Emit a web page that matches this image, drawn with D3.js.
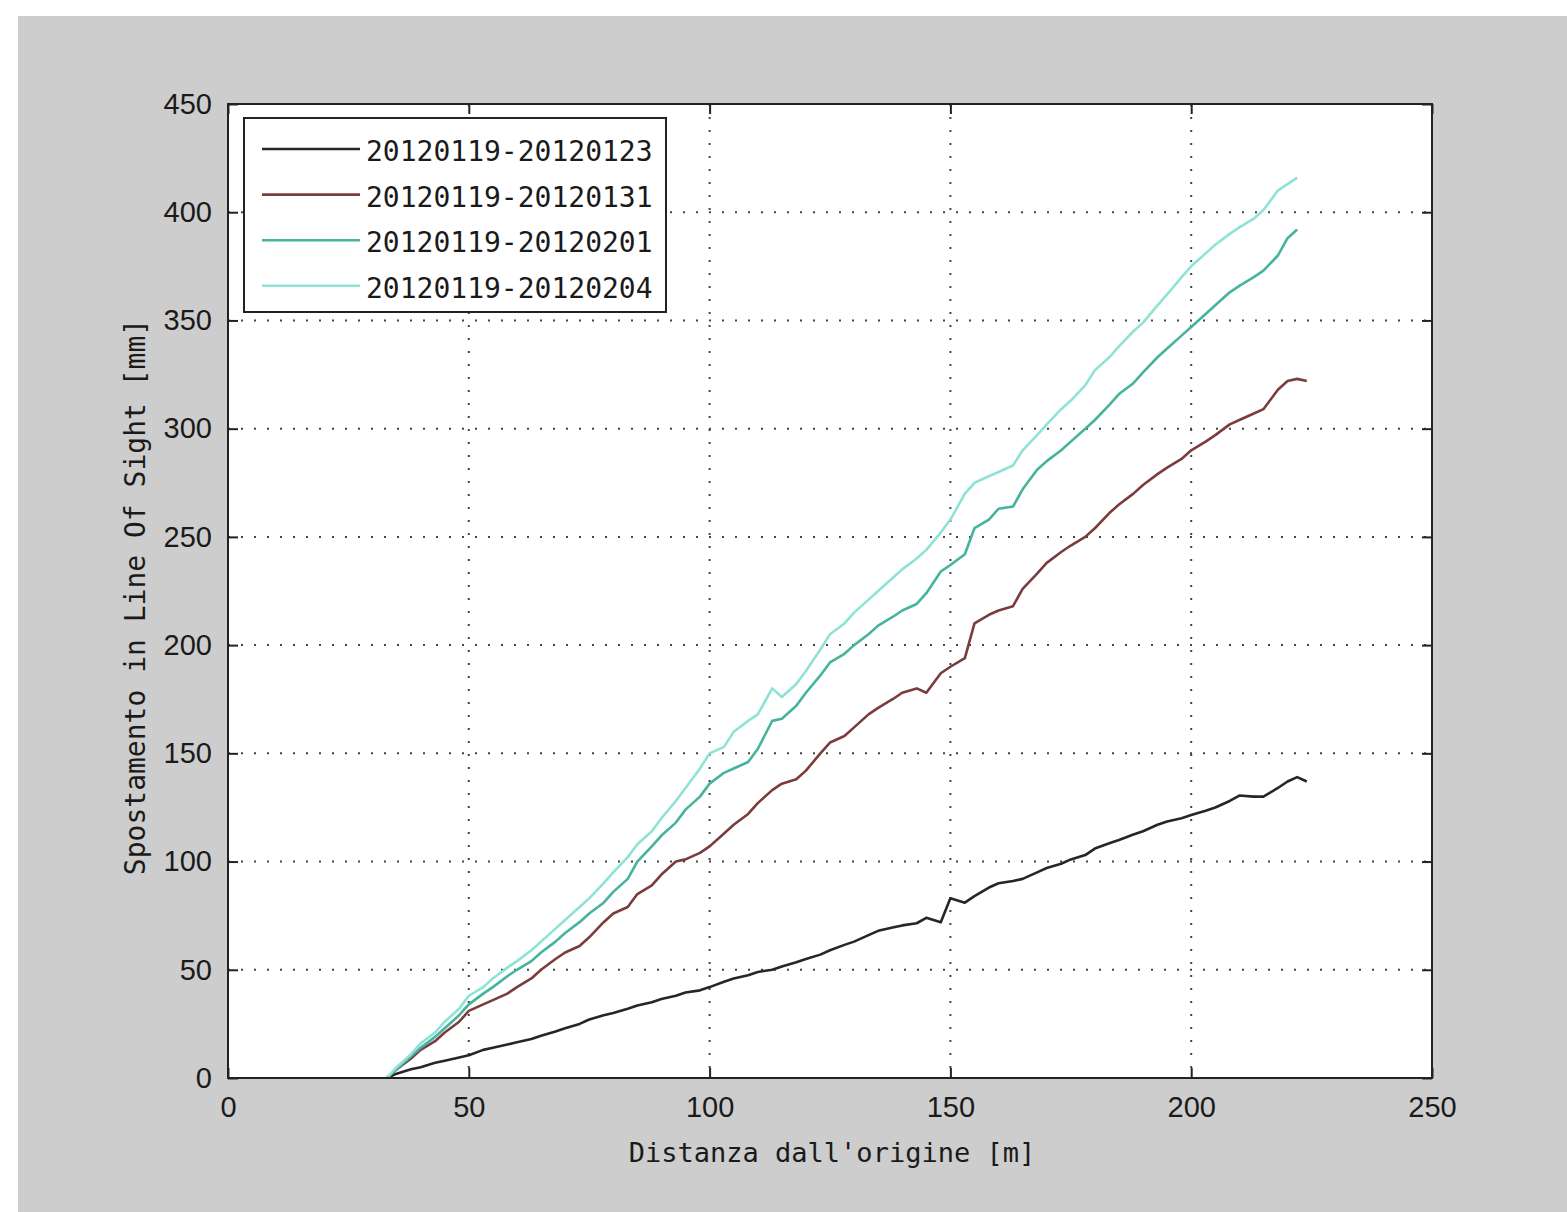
<!DOCTYPE html>
<html lang="it">
<head>
<meta charset="UTF-8">
<title>Spostamento in Line Of Sight</title>
<script src="https://d3js.org/d3.v7.min.js"></script>
<style>
  body { margin: 0; background: #ffffff; }
  #chart svg { display: block; }
</style>
</head>
<body>
<div id="chart"></div>
<script>
// Distanza dall'origine [m], shared by all series
var distanza = [33,35,38,40,43,45,48,50,53,55,58,60,63,65,68,70,73,75,78,80,83,85,88,90,93,95,98,100,
  103,105,108,110,113,115,118,120,123,125,128,130,133,135,138,140,143,145,148,150,153,155,158,160,163,165,
  168,170,173,175,178,180,183,185,188,190,193,195,198,200,203,205,208,210,213,215,218,220,222,224];

// Spostamento [mm] per interval
var s0123 = [0,2,4,5,7,8,9.5,10.5,13,14,15.5,16.5,18,19.5,21.5,23,25,27,29,30,32,33.5,35,36.5,38,39.5,40.5,42,
  44.5,46,47.5,49,50,51.5,53.5,55,57,59,61.5,63,66,68,69.5,70.5,71.5,74,72,83,81,84,88,90,91,92,
  95,97,99,101,103,106,108.5,110,112.5,114,117,118.5,120,121.5,123.5,125,128,130.5,130,130,134,137,139,137];
var s0131 = [0,4,9,13,17,21,26,31,34,36,39,42,46,50,55,58,61,65,72,76,79,85,89,94,100,101,104,107,
  113,117,122,127,133,136,138,142,150,155,158,162,168,171,175,178,180,178,187,190,194,210,214,216,218,226,
  233,238,243,246,250,254,261,265,270,274,279,282,286,290,294,297,302,304,307,309,318,322,323,322];
var s0201 = [0,4,10,14,19,23,29,34,39,42,47,50,54,58,63,67,72,76,81,86,92,100,107,112,118,124,130,136,
  141,143,146,152,165,166,172,178,186,192,196,200,205,209,213,216,219,224,234,237,242,254,258,263,264,272,
  281,285,290,294,300,304,311,316,321,326,333,337,343,347,353,357,363,366,370,373,380,388,392,null];
var s0204 = [0,5,11,16,21,26,32,38,42,46,51,54,59,63,69,73,79,83,90,95,102,108,114,120,128,134,143,150,
  153,160,165,168,180,176,182,188,198,205,210,215,221,225,231,235,240,244,252,258,270,275,278,280,283,290,
  297,302,309,313,320,327,333,338,345,349,357,362,370,375,381,385,390,393,397,401,410,413,416,null];

var seriesNames = ["20120119-20120123", "20120119-20120131", "20120119-20120201", "20120119-20120204"];
var seriesValues = [s0123, s0131, s0201, s0204];
var seriesColors = ["#262626", "#7a3c3c", "#45b39d", "#8fe3d6"];

var xTicks = [0, 50, 100, 150, 200, 250];
var yTicks = [0, 50, 100, 150, 200, 250, 300, 350, 400, 450];

// Layout
var width = 1567, height = 1212;
var plot = { left: 228, top: 104, right: 1432, bottom: 1078 };

var svg = d3.select("#chart").append("svg")
  .attr("width", width)
  .attr("height", height);

// Figure background
svg.append("rect")
  .attr("x", 18).attr("y", 16)
  .attr("width", width - 18).attr("height", height - 16)
  .attr("fill", "#cdcdcd");

var x = d3.scaleLinear().domain([0, 250]).range([plot.left, plot.right]);
var y = d3.scaleLinear().domain([0, 450]).range([plot.bottom, plot.top]);

svg.append("rect")
  .attr("x", plot.left).attr("y", plot.top)
  .attr("width", plot.right - plot.left).attr("height", plot.bottom - plot.top)
  .attr("fill", "#ffffff");

// Dotted grid
var grid = svg.append("g").attr("stroke", "#444").attr("stroke-width", 2)
  .attr("stroke-dasharray", "2,11");
grid.selectAll(".gx").data(xTicks.slice(1, -1)).enter().append("line")
  .attr("x1", d => x(d)).attr("x2", d => x(d))
  .attr("y1", plot.top).attr("y2", plot.bottom);
grid.selectAll(".gy").data(yTicks.slice(1, -1)).enter().append("line")
  .attr("x1", plot.left).attr("x2", plot.right)
  .attr("y1", d => y(d)).attr("y2", d => y(d));

// Series
var line = d3.line()
  .defined(d => d[1] != null)
  .x(d => x(d[0]))
  .y(d => y(d[1]));

seriesValues.forEach(function (vals, i) {
  var pts = distanza.map((d, j) => [d, vals[j]]);
  svg.append("path")
    .datum(pts)
    .attr("fill", "none")
    .attr("stroke", seriesColors[i])
    .attr("stroke-width", 2.6)
    .attr("stroke-linejoin", "round")
    .attr("d", line);
});

// Axes (ticks inward, box on)
var tickFont = "'Liberation Sans', Arial, sans-serif";
var bottomAxis = svg.append("g")
  .attr("transform", "translate(0," + plot.bottom + ")")
  .call(d3.axisBottom(x).tickValues(xTicks).tickSize(-10).tickPadding(18));
var leftAxis = svg.append("g")
  .attr("transform", "translate(" + plot.left + ",0)")
  .call(d3.axisLeft(y).tickValues(yTicks).tickSize(-10).tickPadding(16));
svg.append("g")
  .attr("transform", "translate(0," + plot.top + ")")
  .call(d3.axisTop(x).tickValues(xTicks).tickSize(-10).tickFormat(""));
svg.append("g")
  .attr("transform", "translate(" + plot.right + ",0)")
  .call(d3.axisRight(y).tickValues(yTicks).tickSize(-10).tickFormat(""));

svg.selectAll(".domain").remove();
svg.selectAll(".tick line").attr("stroke", "#222").attr("stroke-width", 2);
svg.selectAll(".tick text")
  .attr("fill", "#1a1a1a")
  .style("font-family", tickFont)
  .style("font-size", "29px");

svg.append("rect")
  .attr("x", plot.left).attr("y", plot.top)
  .attr("width", plot.right - plot.left).attr("height", plot.bottom - plot.top)
  .attr("fill", "none").attr("stroke", "#222").attr("stroke-width", 2);

// Axis titles
var monoFont = "'DejaVu Sans Mono', 'Liberation Mono', monospace";
svg.append("text")
  .attr("x", (plot.left + plot.right) / 2 + 2)
  .attr("y", 1162)
  .attr("text-anchor", "middle")
  .attr("fill", "#1a1a1a")
  .style("font-family", monoFont)
  .style("font-size", "27px")
  .text("Distanza dall'origine [m]");

svg.append("text")
  .attr("transform", "translate(145," + ((plot.top + plot.bottom) / 2 + 6) + ") rotate(-90)")
  .attr("text-anchor", "middle")
  .attr("fill", "#1a1a1a")
  .style("font-family", monoFont)
  .style("font-size", "28px")
  .text("Spostamento in Line Of Sight [mm]");

// Legend
var legend = svg.append("g");
legend.append("rect")
  .attr("x", 244).attr("y", 118)
  .attr("width", 422).attr("height", 194)
  .attr("fill", "#ffffff").attr("stroke", "#222").attr("stroke-width", 2);

seriesNames.forEach(function (name, i) {
  var ly = 153 + i * 45.6;
  legend.append("line")
    .attr("x1", 262).attr("x2", 360)
    .attr("y1", ly - 4).attr("y2", ly - 4)
    .attr("stroke", seriesColors[i]).attr("stroke-width", 2.6);
  legend.append("text")
    .attr("x", 366).attr("y", ly + 8)
    .attr("fill", "#1a1a1a")
    .style("font-family", monoFont)
    .style("font-size", "28px")
    .text(name);
});
</script>
</body>
</html>
